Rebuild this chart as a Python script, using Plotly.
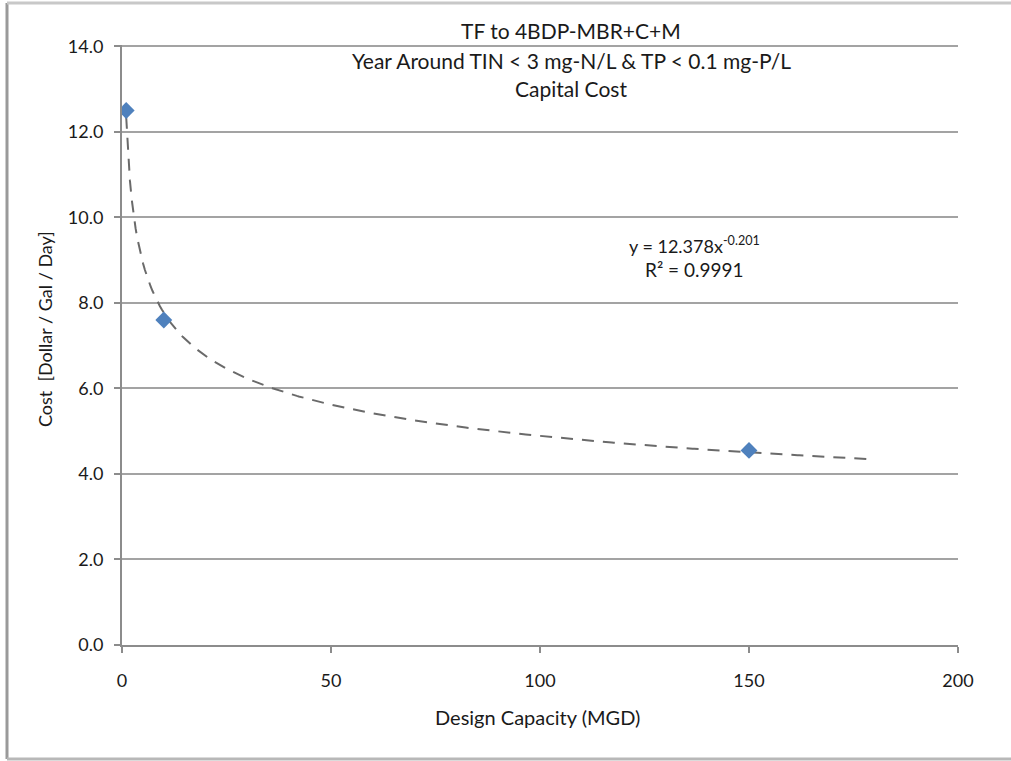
import numpy as np
import plotly.graph_objects as go

# Data
capacity_mgd = [1, 10, 150]
cost_per_gpd = [12.5, 7.6, 4.55]
x_ticks = [0, 50, 100, 150, 200]
y_ticks = [0, 2, 4, 6, 8, 10, 12, 14]
y_tick_labels = ["0.0", "2.0", "4.0", "6.0", "8.0", "10.0", "12.0", "14.0"]
trend_forward = 30  # Excel trendline forecast forward (MGD)

title_lines = ["TF to 4BDP-MBR+C+M",
               "Year Around TIN < 3 mg-N/L & TP < 0.1 mg-P/L",
               "Capital Cost"]
eq_text = "y = 12.378x<sup>-0.201</sup>"
r2_text = "R² = 0.9991"
x_title = "Design Capacity (MGD)"
y_title = "Cost  [Dollar / Gal / Day]"

# Power trendline fitted from the data (log-log least squares)
b, loga = np.polyfit(np.log(capacity_mgd), np.log(cost_per_gpd), 1)
a = np.exp(loga)
tx = np.linspace(min(capacity_mgd), max(capacity_mgd) + trend_forward, 400)
ty = a * tx ** b

FONT = "Lato"
GRID = "#a3a3a3"
AXIS = "#8c8c8c"
TXT = "#1a1a1a"

fig = go.Figure()
fig.add_trace(go.Scatter(x=tx, y=ty, mode="lines",
                         line=dict(color="#6a6a6a", width=2, dash="12px,9px"),
                         hoverinfo="skip", showlegend=False))
fig.add_trace(go.Scatter(x=capacity_mgd, y=cost_per_gpd, mode="markers",
                         marker=dict(symbol="diamond", size=13, color="#4f81bd",
                                     line=dict(width=0)),
                         showlegend=False))

W, H = 1011, 761
Y_MAX = 14.03
L, R, B = 122, 958, 645
T = int(round(B - (B - 46) * Y_MAX / 14))
pw, ph = R - L, B - T


def px(xp):
    return (xp - L) / pw


def py(yp):
    return (B - yp) / ph


annos = []
for yp, txt in zip([30, 60, 88], title_lines):
    annos.append(dict(x=px(571), y=py(yp), xref="paper", yref="paper",
                      text=txt, showarrow=False, xanchor="center", yanchor="middle",
                      font=dict(family=FONT, size=21, color=TXT)))
annos.append(dict(x=px(627), y=py(245), xref="paper", yref="paper", text=eq_text,
                  showarrow=False, xanchor="left", yanchor="middle",
                  font=dict(family=FONT, size=18, color=TXT)))
annos.append(dict(x=px(643), y=py(269), xref="paper", yref="paper", text=r2_text,
                  showarrow=False, xanchor="left", yanchor="middle",
                  font=dict(family=FONT, size=19, color=TXT)))
annos.append(dict(x=px(537), y=py(717), xref="paper", yref="paper", text=x_title,
                  showarrow=False, xanchor="center", yanchor="middle",
                  font=dict(family=FONT, size=20, color=TXT)))
annos.append(dict(x=px(45), y=py(329), xref="paper", yref="paper", text=y_title,
                  showarrow=False, xanchor="center", yanchor="middle", textangle=-90,
                  font=dict(family=FONT, size=18, color=TXT)))

shapes = [
    dict(type="line", xref="paper", yref="paper", x0=px(7), x1=px(7), y0=py(3), y1=py(759),
         line=dict(color="#9a9a9a", width=3)),
    dict(type="line", xref="paper", yref="paper", x0=px(7), x1=px(1011), y0=py(3), y1=py(3),
         line=dict(color="#c8c8c8", width=3)),
    dict(type="line", xref="paper", yref="paper", x0=px(7), x1=px(1011), y0=py(759), y1=py(759),
         line=dict(color="#b8b8b8", width=3)),
]

fig.update_layout(
    width=W, height=H,
    margin=dict(l=L, r=W - R, t=T, b=H - B, pad=0),
    paper_bgcolor="white", plot_bgcolor="white",
    font=dict(family=FONT, size=18, color=TXT),
    annotations=annos, shapes=shapes,
    xaxis=dict(range=[0, 200], tickvals=x_ticks, ticktext=[str(v) for v in x_ticks],
               showgrid=False, zeroline=False, showline=True, linecolor=AXIS,
               linewidth=2, ticks="outside", ticklen=6, tickcolor=AXIS,
               tickwidth=2, ticklabelstandoff=12,
               tickfont=dict(family=FONT, size=18, color=TXT)),
    yaxis=dict(range=[0, Y_MAX], tickvals=y_ticks, ticktext=y_tick_labels,
               showgrid=True, gridcolor=GRID, gridwidth=2, zeroline=False,
               showline=True, linecolor=AXIS, linewidth=2, ticks="outside",
               ticklen=6, tickcolor=AXIS, tickwidth=2, ticklabelstandoff=7,
               tickfont=dict(family=FONT, size=18, color=TXT)),
)

fig.write_html("out.html", config={"displayModeBar": False},
               post_script="document.body.style.margin='0';")
